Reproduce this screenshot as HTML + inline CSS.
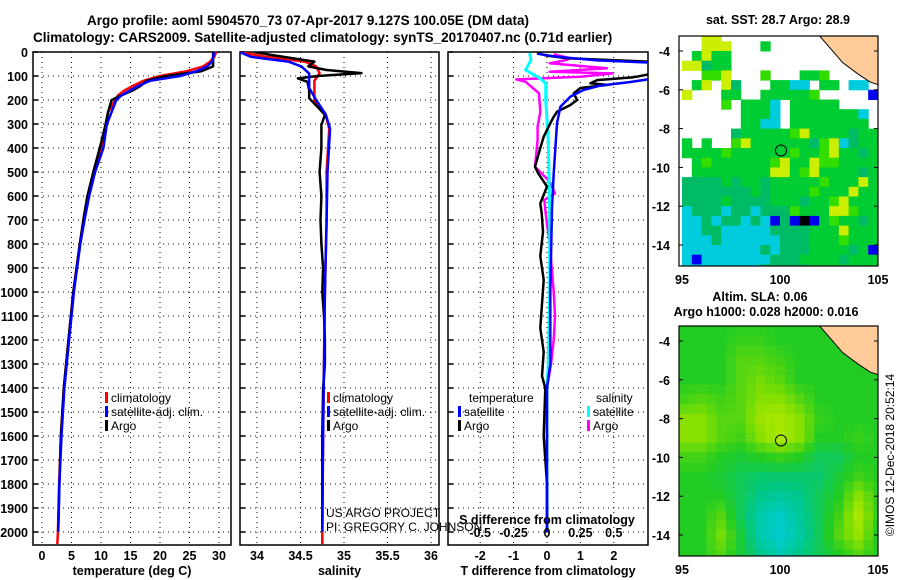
<!DOCTYPE html>
<html><head><meta charset="utf-8">
<style>
html,body{margin:0;padding:0;background:#fff;}
svg{display:block;font-family:"Liberation Sans",Arial,sans-serif;font-weight:bold;}
text{font-size:12.5px;fill:#000;}
</style></head>
<body>
<svg id="fig" width="900" height="580" viewBox="0 0 900 580" xmlns="http://www.w3.org/2000/svg">
<text x="308" y="25" text-anchor="middle" style="font-size:13.5px">Argo profile: aoml 5904570_73 07-Apr-2017 9.127S 100.05E (DM data)</text>
<text x="33" y="42" style="font-size:13.5px">Climatology: CARS2009. Satellite-adjusted climatology: synTS_20170407.nc (0.71d earlier)</text>
<text x="778" y="24" text-anchor="middle">sat. SST: 28.7 Argo: 28.9</text>
<text x="760" y="301" text-anchor="middle">Altim. SLA: 0.06</text>
<text x="766" y="316" text-anchor="middle">Argo h1000: 0.028 h2000: 0.016</text>
<text transform="translate(894,455) rotate(-90)" text-anchor="middle" style="font-weight:normal;font-size:12px">©IMOS 12-Dec-2018 20:52:14</text>
<g id="g"></g>
</svg>
<script>
// ---- data ----
const depths = [0,20,40,60,80,100,120,140,160,180,200,250,300,400,500,600,700,800,1000,1200,1400,1600,1800,2000];
const argoT = [29,29,29,29,27,21,17.7,16.8,15.4,13.5,11.8,11.2,10.8,9.8,8.7,7.7,7.0,6.4,5.3,4.5,3.7,3.2,2.95,2.75];
const climDepths = [0,20,40,60,80,100,120,140,160,180,200,250,300,400,500,600,700,800,1000,1200,1400,1600,1800,2000,2050];
const climT = [29.5,29.2,28.5,27.3,24.5,20,17.2,15.5,14,12.9,12.4,11.2,10.8,10,8.9,7.9,7.1,6.4,5.3,4.5,3.7,3.2,2.9,2.7,2.6];
const satT = [29.2,29,28.8,28,26.2,23.4,18.3,16.4,14.9,13.5,12.6,11.8,11.0,10.4,9.0,8.0,7.2,6.5,5.4,4.6,3.8,3.3,2.95,2.75];

const argoSDepths = [0,12,40,60,75,88,100,110,124,160,193,230,262,304,400,500,600,700,800,900,1000,1100,1200,1300,1400,1600,1800,2000];
const argoS = [33.97,34.16,34.66,34.59,34.8,35.2,34.7,34.47,34.58,34.6,34.6,34.7,34.78,34.74,34.74,34.72,34.74,34.73,34.74,34.76,34.75,34.77,34.78,34.78,34.76,34.75,34.75,34.75];
const climSDepths = [0,20,40,60,88,120,200,260,320,500,700,1000,1300,1600,2000,2050];
const climS = [33.8,34.1,34.55,34.68,34.72,34.66,34.66,34.79,34.83,34.8,34.8,34.78,34.77,34.76,34.75,34.75];
const satSDepths = [0,20,40,60,90,150,200,260,320,500,700,1000,1300,1600,2000];
const satS = [33.8,33.93,34.36,34.51,34.6,34.6,34.68,34.79,34.84,34.81,34.8,34.78,34.77,34.76,34.75];

const tdDepths = [5,15,26,40,60,89,105,117,130,137,150,172,200,221,249,270,297,353,400,478,506,561,631,672,750,850,950,1050,1150,1250,1350,1400,1600,1800,2000];
const argoTdiff = [-0.3,0,0.6,3.0,3.2,3.2,2.6,1.5,1.3,1.8,1.0,0.8,0.9,0.7,0.3,0.2,0.1,-0.1,-0.2,-0.36,-0.26,0,-0.2,-0.16,-0.12,-0.2,-0.1,-0.15,-0.2,-0.1,-0.15,-0.05,-0.1,0,0];
const satTdDepths = [7,20,35,45,110,125,140,158,186,228,297,506,650,1000,1300,1400,2000];
const satTdiff = [-0.3,0.3,1.5,3.2,3.2,2.5,1.6,1.1,0.7,0.4,0.3,0.2,0.15,0.1,0.1,0,0];
const sdDepths = [9,26,33,47,68,82,89,103,114,124,172,249,311,367,478,540,589,617,672,800,1000,1100,1200,1300,1400,2000];
const argoSdiff = [0.05,0.17,0.15,0.02,0.45,0.02,0.49,0.25,-0.23,-0.16,-0.06,-0.05,-0.07,-0.07,-0.09,0.02,0.06,-0.02,-0.01,0.02,0.05,0.06,0.05,0.03,0,0];
const satSdDepths = [5,33,54,75,110,131,200,367,672,1000,1300,1400,2000];
const satSdiff = [-0.13,-0.12,-0.14,-0.16,-0.05,-0.01,-0.01,0.01,0.02,0.02,0.01,0,0];

const depthTicks = [0,100,200,300,400,500,600,700,800,900,1000,1100,1200,1300,1400,1500,1600,1700,1800,1900,2000];
const tTicks = [0,5,10,15,20,25,30];
const sTicks = [34,34.5,35,35.5,36];
const tdTicks = [-2,-1,0,1,2];
const sdTicks = [-0.5,-0.25,0,0.25,0.5];

// SST map (0.5 deg cells, rows from -3 lat southward, cols from 95E)
const sstRows = [
"wwyywwwwwwwwwwwwwwww",
"wwyyywwwgwwwwwwwwwww",
"wgyggwwwwwwwwwwwwwww",
"yytggwwwwwwwwwwwwwww",
"wwllywwwlwwwgglwwwww",
"wgywytwwwggccwggwccw",
"ywwwggwwggggglwwwwwb",
"wwwwlwgggcwgggggwwww",
"wwwwwwgggcwgggggggcw",
"wwwwwwggccwggggggggw",
"wwwwwtggggglyggggtgg",
"gwgwwlyggggggtlyctgg",
"gggglgggggglgglyggtg",
"wglgggggglyggyllgggg",
"wggggggggyyglyggggtg",
"ttttgtggtggggglgggyg",
"tttttttgtgggglgggygg",
"ttttgttttgggtgglyggg",
"ctttcttctttlgggyylgg",
"cctcttctcbtbkbglggtg",
"ccttcccccttttgggyggg",
"ccctcccccctttggglggg",
"cccccccctctttggggtgb",
"cbccccccctttggggtggg",
"cccccccctttttggggggg"];
// SLA map (1 deg nodes, lat -3..-15, lon 95..105), colour index 0=cyan..4=yellow
const slaGrid = [
[2,2,2,2,2,2,2,2,2,2,2],
[2,2,2,2.2,2.2,2,2,2,2,2,2],
[2,2,2,2.5,2.5,2.3,2,2,2,2,2],
[2,2,2,2.5,2.8,2.5,2,2,2,2,2],
[2.3,2.5,2.3,2.5,3,3,2.5,2,2,2,2],
[3,3,2.5,2.5,3.3,3.5,3,2.2,2,2,2],
[3,3,2.5,2.3,3,3.5,3,2,2,2.2,2],
[2.3,2.3,2,1.8,2,2.2,2,1.5,1.5,2,2],
[2,2,1.8,1.5,1.3,1.3,1.3,1.3,1.8,2.3,2],
[2,2,2,1.5,1,0.8,1,1.5,2,3,2.2],
[2,2,2.5,1.5,0.6,0.3,0.8,1.5,2.3,3.5,2.2],
[2,2,2.8,1.8,0.6,0.2,0.7,1.5,2.5,3.2,2],
[2,2,2.5,1.8,1,0.5,1,1.5,2,2.5,2]];
const landLon = [102.0,102.6,103.2,104.0,104.6,105.2,105.2];
const landLat = [-3.2,-3.9,-4.6,-5.2,-5.6,-5.8,-3.2];
const floatLon = 100.05, floatLat = -9.127;
const mapLonTicks = [95,100,105];
const mapLatTicks = [-4,-6,-8,-10,-12,-14];

// ---- helpers ----
const NS='http://www.w3.org/2000/svg';
const root=document.getElementById('g');
function el(tag,attrs,parent){const e=document.createElementNS(NS,tag);for(const k in attrs)e.setAttribute(k,attrs[k]);(parent||root).appendChild(e);return e;}
const yD=d=>52+d*0.24;
const Y0=52,Y1=545;
const tx=t=>42+t*5.9;
const sx=s=>257+(s-34)*87;
const dx=d=>547+d*33.4;
const sdx=s=>547+s*133.6;

function panel(x0,x1,name,xTicks,xf,labelFmt,showDepthLabels,xTitle){
  const gp=el('g',{});
  
  
  depthTicks.forEach(d=>{if(d>0){const l=el('line',{x1:x0,x2:x1,y1:yD(d),y2:yD(d),stroke:'#000','stroke-width':1,'stroke-dasharray':'1,4'},gp);}
    const t=el('line',{x1:x0,x2:x0+5,y1:yD(d),y2:yD(d),stroke:'#000','stroke-width':1.5},gp);
    if(showDepthLabels){const tt=el('text',{x:x0-5,y:yD(d)+5,'text-anchor':'end'},gp);tt.textContent=d;}
  });
  xTicks.forEach(v=>{const X=xf(v);const l=el('line',{x1:X,x2:X,y1:Y0,y2:Y1,stroke:'#000','stroke-width':1,'stroke-dasharray':'1,4'},gp);
    if(labelFmt){const tt=el('text',{x:X,y:Y1+15,'text-anchor':'middle'},gp);tt.textContent=labelFmt(v);}});
  const fr=el('rect',{x:x0,y:Y0,width:x1-x0,height:Y1-Y0,fill:'none',stroke:'#000','stroke-width':1.5},gp);
  
  const xt=el('text',{x:(x0+x1)/2,y:575,'text-anchor':'middle'},gp);xt.textContent=xTitle;
  
  return gp;
}
function line(ds,vs,xf,color,name,parent,w){
  const pts=ds.map((d,i)=>xf(vs[i]).toFixed(1)+','+yD(d).toFixed(1)).join(' ');
  const p=el('polyline',{points:pts,fill:'none',stroke:color,'stroke-width':w||2.5,'stroke-linejoin':'round'},parent);
  
  return p;
}
function clip(id,x0,x1){const c=el('clipPath',{id:id});el('rect',{x:x0,y:Y0,width:x1-x0,height:Y1-Y0},c);}
clip('c1',33,231);clip('c2',240,439);clip('c3',448,648);
function legendItem(x,y,color,label,name,par){
  const m=el('rect',{x:x,y:y-10,width:3,height:11,fill:color},par);
  
  if(label){const t=el('text',{x:x+6,y:y,style:'font-weight:normal;font-size:12px'},par);t.textContent=label;
  }
}

// Panel 1 temperature
const p1=panel(33,231,'temperature-panel',tTicks,tx,v=>v,true,'temperature (deg C)');
const l1=el('g',{'clip-path':'url(#c1)'},p1);
line(climDepths,climT,tx,'#ff0000','climatology-temperature-line',l1);
line(depths,argoT,tx,'#000000','argo-temperature-line',l1);
line(depths,satT,tx,'#0000ff','satellite-temperature-line',l1);
legendItem(105,402,'#ff0000','climatology','legend-climatology',p1);
legendItem(105,416,'#0000ff','satellite-adj. clim.','legend-satellite',p1);
legendItem(105,430,'#000000','Argo','legend-argo',p1);

// Panel 2 salinity
const p2=panel(240,439,'salinity-panel',sTicks,sx,v=>v,false,'salinity');
const l2=el('g',{'clip-path':'url(#c2)'},p2);
line(climSDepths,climS,sx,'#ff0000','climatology-salinity-line',l2);
line(argoSDepths,argoS,sx,'#000000','argo-salinity-line',l2);
line(satSDepths,satS,sx,'#0000ff','satellite-salinity-line',l2);
legendItem(327,402,'#ff0000','climatology','legend-climatology-s',p2);
legendItem(327,416,'#0000ff','satellite-adj. clim.','legend-satellite-s',p2);
legendItem(327,430,'#000000','Argo','legend-argo-s',p2);
const pi1=el('text',{x:326,y:517,style:'font-weight:normal;font-size:12px'},p2);pi1.textContent='US ARGO PROJECT';

const pi2=el('text',{x:326,y:531,style:'font-weight:normal;font-size:12px'},p2);pi2.textContent='PI: GREGORY C. JOHNSON';


// Panel 3 differences
const p3=panel(448,648,'difference-panel',tdTicks,dx,v=>v,false,'T difference from climatology');
const l3=el('g',{'clip-path':'url(#c3)'},p3);
line(sdDepths,argoSdiff,sdx,'#ff00ff','argo-salinity-diff-line',l3);
line(satSdDepths,satSdiff,sdx,'#00ffff','satellite-salinity-diff-line',l3,3);
line(tdDepths,argoTdiff,dx,'#000000','argo-temperature-diff-line',l3);
line(satTdDepths,satTdiff,dx,'#0000ff','satellite-temperature-diff-line',l3);
sdTicks.forEach(v=>{const t=el('text',{x:sdx(v),y:537,'text-anchor':'middle'},p3);t.textContent=v;
  });
const sdt=el('text',{x:547,y:524,'text-anchor':'middle'},p3);sdt.textContent='S difference from climatology';

const lt=el('text',{x:469,y:402,style:'font-weight:normal;font-size:12px'},p3);lt.textContent='temperature';

legendItem(458,416,'#0000ff','satellite','legend-t-satellite',p3);
legendItem(458,430,'#000000','Argo','legend-t-argo',p3);
const ls=el('text',{x:596,y:402,style:'font-weight:normal;font-size:12px'},p3);ls.textContent='salinity';

legendItem(587,416,'#00ffff','satellite','legend-s-satellite',p3);
legendItem(587,430,'#ff00ff','Argo','legend-s-argo',p3);

// ---- maps ----
const MX0=679,MX1=878;
const lonX=l=>682+(l-95)*19.6;
function mapFrame(yOff,name){
  const gm=el('g',{});
  
  const latY=L=>51+yOff+(-4-L)*19.4;
  const top=36+yOff,bot=266+yOff;
  const cp=el('clipPath',{id:'m'+yOff});
  el('rect',{x:MX0,y:top,width:MX1-MX0,height:bot-top},cp);
  const cells=el('g',{'clip-path':'url(#m'+yOff+')'},gm);
  return {gm,cells,latY,top,bot};
}
function mapDecor(m){
  const {gm,cells,latY,top,bot}=m;
  const pts=landLon.map((l,i)=>lonX(l)+','+latY(landLat[i])).join(' ');
  const land=el('polygon',{points:pts,fill:'#ffcc99',stroke:'#000','stroke-width':1},cells);
  
  const fc=el('circle',{cx:lonX(floatLon),cy:latY(floatLat),r:5.5,fill:'none',stroke:'#000','stroke-width':1},gm);
  
  const fr=el('rect',{x:MX0,y:top,width:MX1-MX0,height:bot-top,fill:'none',stroke:'#000','stroke-width':1.2},gm);
  
  mapLatTicks.forEach(L=>{const t=el('text',{x:670,y:latY(L)+5,'text-anchor':'end'},gm);t.textContent=L;
    
    el('line',{x1:MX0,x2:MX0+4,y1:latY(L),y2:latY(L),stroke:'#000'},gm);el('line',{x1:MX1-4,x2:MX1,y1:latY(L),y2:latY(L),stroke:'#000'},gm);});
  mapLonTicks.forEach(l=>{const t=el('text',{x:lonX(l),y:bot+18,'text-anchor':'middle'},gm);t.textContent=l;
    });
}
const sstCol={w:'#ffffff',g:'#00cc33',t:'#00bb66',l:'#33dd00',y:'#ccee00',c:'#00ccdd',b:'#0000ee',k:'#000000'};
const m1=mapFrame(0,'sst-map');
sstRows.forEach((row,r)=>{for(let c=0;c<row.length;c++){const ch=row[c];if(ch==='w')continue;
  const x=lonX(95+c*0.5),y=m1.latY(-3-r*0.5);
  const cell=el('rect',{x:x.toFixed(1),y:y.toFixed(1),width:10.3,height:10.2,fill:sstCol[ch]},m1.cells);
  }});
mapDecor(m1);
const slaStops=[[0,204,221],[0,200,140],[34,204,34],[136,224,0],[204,238,0]];
function slaColor(v){v=Math.max(0,Math.min(4,v));const i=Math.min(3,Math.floor(v)),f=v-i;const a=slaStops[i],b=slaStops[i+1];
  return 'rgb('+a.map((x,k)=>Math.round(x+(b[k]-x)*f)).join(',')+')';}
const m2=mapFrame(290,'sla-map');
for(let r=0;r<25;r++){for(let c=0;c<21;c++){
  const lat=-3-r*0.5,lon=95+c*0.5;
  const fr=Math.min(11.999,(-3-lat)),fc=Math.min(9.999,lon-95);
  const i=Math.floor(fr),j=Math.floor(fc),u=fr-i,w=fc-j;
  const v=slaGrid[i][j]*(1-u)*(1-w)+slaGrid[i+1][j]*u*(1-w)+slaGrid[i][j+1]*(1-u)*w+slaGrid[i+1][j+1]*u*w;
  const cell=el('rect',{x:(lonX(lon)-4.9).toFixed(1),y:(m2.latY(lat)-4.85).toFixed(1),width:10.3,height:10.2,fill:slaColor(v)},m2.cells);
  }}
mapDecor(m2);
</script>
</body></html>
